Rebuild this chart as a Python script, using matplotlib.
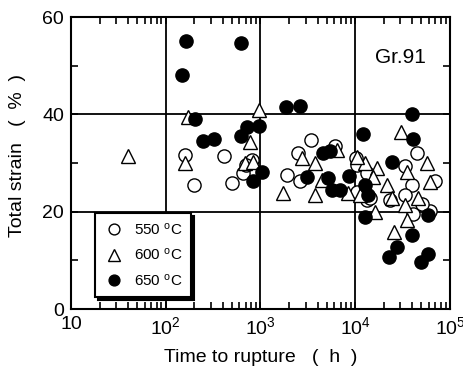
import matplotlib
matplotlib.use("Agg")
import matplotlib.pyplot as plt
from matplotlib.ticker import FixedLocator, NullFormatter, LogLocator

plt.rcParams['font.family'] = ['Liberation Sans', 'DejaVu Sans']
plt.rcParams['mathtext.fontset'] = 'custom'
plt.rcParams['mathtext.rm'] = 'Liberation Sans'
plt.rcParams['mathtext.it'] = 'Liberation Sans'
plt.rcParams['mathtext.bf'] = 'Liberation Sans'

# 550 C (open circles)
t550 = [160, 412, 199, 500, 653, 813, 700, 3410, 2490, 6110, 1905, 2600, 10200, 10400,
        13300, 10400, 13300, 23300, 14300, 33500, 39700, 44900, 69500, 61500, 40600,
        33500, 50600]
e550 = [31.6, 31.4, 25.5, 25.9, 27.9, 30.6, 29.5, 34.7, 32.0, 33.5, 27.5, 26.3, 31.0, 29.6,
        27.9, 24.0, 22.4, 22.4, 22.8, 29.4, 25.5, 32.1, 26.3, 20.2, 19.5,
        23.4, 21.6]

# 600 C (open triangles)
t600 = [40, 172, 963, 775, 160, 685, 833, 6410, 30400, 2740, 1725, 3760, 4460, 3760,
        8370, 12680, 17000, 15400, 21600, 24400, 16100, 35200, 57100, 61500, 45900,
        33500, 35200, 25600, 10400, 11200]
e600 = [31.4, 39.5, 40.9, 34.3, 30.0, 30.0, 30.2, 32.7, 36.4, 31.0, 23.8, 23.4, 26.5, 30.0,
        23.8, 30.0, 29.0, 27.1, 25.5, 22.8, 19.9, 28.2, 30.0, 26.1, 22.8,
        21.4, 18.3, 15.8, 31.2, 23.4]

# 650 C (filled circles)
t650 = [164, 622, 148, 204, 247, 323, 720, 963, 622, 833, 1038, 1858, 2611, 4570, 5420,
        3100, 5150, 5690, 6900, 8590, 12080, 40600, 39700, 24400, 12680, 13640, 12680,
        58600, 39700, 27600, 22700, 58600, 49400]
e650 = [55.1, 54.7, 48.1, 39.0, 34.5, 34.9, 37.4, 37.6, 35.5, 26.3, 28.2, 41.5, 41.7, 32.1, 32.5,
        27.1, 26.9, 24.5, 24.5, 27.3, 36.0, 34.9, 40.1, 30.2, 25.5, 23.4, 18.9,
        19.3, 15.2, 12.7, 10.7, 11.3, 9.7]

xticks = [10, 100, 1000, 10000, 100000]
xticklabels = ['10', '$10^2$', '$10^3$', '$10^4$', '$10^5$']
yticks = [0, 20, 40, 60]

fig = plt.figure(figsize=(4.64, 3.70), dpi=100)
ax = fig.add_axes([71/464, 61/370, 379/464, 292/370])

ax.set_xscale('log')
ax.set_xlim(10, 1e5)
ax.set_ylim(0, 60)

for v in [100, 1000, 10000]:
    ax.axvline(v, color='black', lw=1.3, zorder=1)
for v in [20, 40]:
    ax.axhline(v, color='black', lw=1.3, zorder=1)

ax.plot(t550, e550, 'o', ms=9.5, mfc='white', mec='black', mew=1.0, zorder=3, label='550 $^{\\rm o}$C')
ax.plot(t600, e600, '^', ms=10.5, mfc='white', mec='black', mew=1.0, zorder=3, label='600 $^{\\rm o}$C')
ax.plot(t650, e650, 'o', ms=9.5, mfc='black', mec='black', mew=1.0, zorder=4, label='650 $^{\\rm o}$C')

ax.set_xticks(xticks)
ax.set_xticklabels(xticklabels)
ax.xaxis.set_minor_locator(LogLocator(base=10, subs=range(2, 10)))
ax.xaxis.set_minor_formatter(NullFormatter())
ax.set_yticks(yticks)
ax.yaxis.set_minor_locator(FixedLocator([10, 30, 50]))

ax.tick_params(which='both', direction='in', top=True, right=True, labelsize=14, width=1.2)
ax.tick_params(which='major', length=5, pad=5)
ax.tick_params(which='minor', length=5)
for s in ax.spines.values():
    s.set_linewidth(1.5)

ax.set_xlabel('Time to rupture   (  h  )', fontsize=14, labelpad=8)
ax.set_ylabel('Total strain   (  %  )', fontsize=14)
ax.yaxis.set_label_coords(-0.118, 0.524)

ax.text(0.868, 0.863, 'Gr.91', transform=ax.transAxes, fontsize=15, ha='center', va='center')

leg = ax.legend(loc='lower left', bbox_to_anchor=(0.063, 0.042), frameon=True, fancybox=False,
                shadow={'color': 'black', 'alpha': 1}, edgecolor='black', framealpha=1,
                fontsize=11, handletextpad=0.6, borderpad=0.55, labelspacing=0.62,
                handlelength=1.4, borderaxespad=0, markerscale=0.82)
leg.get_frame().set_linewidth(1.5)
leg.set_zorder(10)

fig.savefig('out.png', dpi=100)
